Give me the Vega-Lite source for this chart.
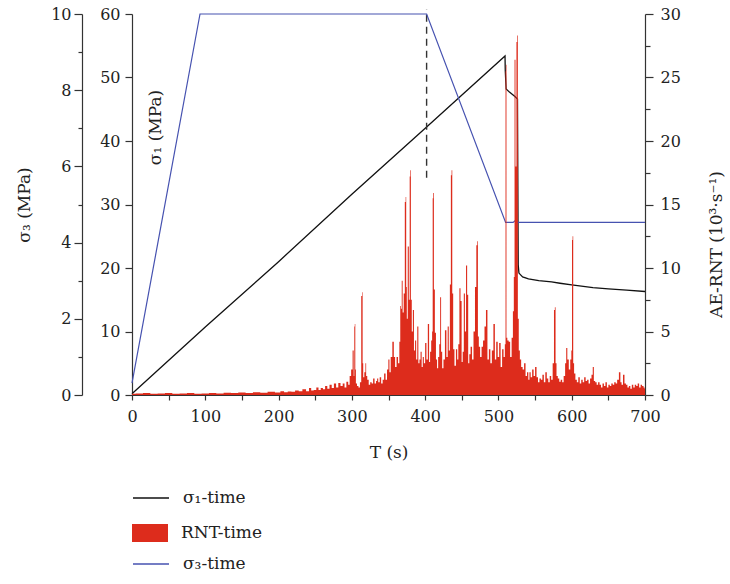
{
  "$schema": "https://vega.github.io/schema/vega-lite/v6.json",
  "width": 513,
  "height": 381,
  "autosize": {"type": "none"},
  "padding": {"left": 132, "top": 14, "right": 85, "bottom": 189},
  "background": "white",
  "config": {
    "view": {"stroke": null},
    "axis": {
      "labelFont": "DejaVu Serif", "labelFontSize": 16, "labelColor": "#222",
      "titleFont": "DejaVu Serif", "titleFontSize": 17, "titleFontWeight": "normal", "titleColor": "#222",
      "domainColor": "#333", "tickColor": "#333", "grid": false, "domainWidth": 1.2, "tickWidth": 1.2
    },
    "legend": {"labelFont": "DejaVu Serif", "labelFontSize": 17, "labelColor": "#222"}
  },
  "datasets": {
    "s1": [
      {"T": 0, "s": 0.2}, {"T": 100, "s": 10.7}, {"T": 200, "s": 21.0}, {"T": 300, "s": 31.6},
      {"T": 402, "s": 42.2}, {"T": 509, "s": 53.4}, {"T": 509.3, "s": 51.2}, {"T": 510.5, "s": 48.2},
      {"T": 515, "s": 47.7}, {"T": 522.5, "s": 47.0}, {"T": 526, "s": 46.6}, {"T": 527, "s": 20.5},
      {"T": 528, "s": 19.2}, {"T": 533, "s": 18.6}, {"T": 541, "s": 18.3}, {"T": 555, "s": 18.0},
      {"T": 572.5, "s": 17.8}, {"T": 584, "s": 17.6}, {"T": 600, "s": 17.35}, {"T": 629, "s": 16.9},
      {"T": 650, "s": 16.7}, {"T": 675, "s": 16.5}, {"T": 700, "s": 16.3}
    ],
    "s3": [
      {"T": 0, "s": 0.31}, {"T": 92.8, "s": 10.0}, {"T": 200, "s": 10.0}, {"T": 300, "s": 10.0},
      {"T": 402, "s": 10.0}, {"T": 509.8, "s": 4.53}, {"T": 520, "s": 4.53}, {"T": 523, "s": 4.58},
      {"T": 525, "s": 4.53}, {"T": 600, "s": 4.53}, {"T": 700, "s": 4.53}
    ],
    "marker": [{"T": 402, "lo": 34.2, "hi": 60.7}],
    "rnt": [
      {"T": 0, "v": 0.1}, {"T": 10, "v": 0.12}, {"T": 20, "v": 0.15}, {"T": 30, "v": 0.1}, {"T": 40, "v": 0.12},
      {"T": 50, "v": 0.15}, {"T": 60, "v": 0.1}, {"T": 70, "v": 0.12}, {"T": 80, "v": 0.15}, {"T": 90, "v": 0.1},
      {"T": 100, "v": 0.12}, {"T": 110, "v": 0.15}, {"T": 120, "v": 0.12}, {"T": 130, "v": 0.18}, {"T": 140, "v": 0.15},
      {"T": 150, "v": 0.2}, {"T": 160, "v": 0.15}, {"T": 170, "v": 0.22}, {"T": 180, "v": 0.18}, {"T": 190, "v": 0.25},
      {"T": 200, "v": 0.2}, {"T": 205, "v": 0.3}, {"T": 210, "v": 0.22}, {"T": 215, "v": 0.28}, {"T": 220, "v": 0.25},
      {"T": 225, "v": 0.35}, {"T": 230, "v": 0.3}, {"T": 235, "v": 0.45}, {"T": 240, "v": 0.3}, {"T": 243, "v": 0.55},
      {"T": 246, "v": 0.35}, {"T": 250, "v": 0.4}, {"T": 253, "v": 0.6}, {"T": 256, "v": 0.4}, {"T": 259, "v": 0.55},
      {"T": 262, "v": 0.45}, {"T": 265, "v": 0.7}, {"T": 268, "v": 0.5}, {"T": 271, "v": 0.8}, {"T": 274, "v": 0.55},
      {"T": 277, "v": 0.9}, {"T": 280, "v": 0.6}, {"T": 283, "v": 0.95}, {"T": 286, "v": 0.7}, {"T": 289, "v": 0.9},
      {"T": 291, "v": 0.6}, {"T": 294, "v": 1.05}, {"T": 296, "v": 0.8}, {"T": 298, "v": 1.5}, {"T": 300, "v": 2.0},
      {"T": 302, "v": 3.5}, {"T": 303, "v": 1.5}, {"T": 303.6, "v": 5.4}, {"T": 304.4, "v": 5.6}, {"T": 305, "v": 2.0}, {"T": 306, "v": 0.9},
      {"T": 308, "v": 0.7}, {"T": 310, "v": 0.6}, {"T": 312, "v": 1.0}, {"T": 313.6, "v": 7.8}, {"T": 314.4, "v": 8.1}, {"T": 315, "v": 2.5},
      {"T": 316, "v": 1.4}, {"T": 318, "v": 1.8}, {"T": 319, "v": 2.5}, {"T": 320, "v": 1.5}, {"T": 322, "v": 1.2},
      {"T": 324, "v": 0.8}, {"T": 326, "v": 1.0}, {"T": 328, "v": 0.9}, {"T": 330, "v": 1.3}, {"T": 332, "v": 0.9},
      {"T": 334, "v": 1.1}, {"T": 335, "v": 1.3}, {"T": 337, "v": 1.0}, {"T": 339, "v": 1.4}, {"T": 341, "v": 0.9},
      {"T": 343, "v": 1.2}, {"T": 345, "v": 1.7}, {"T": 347, "v": 1.2}, {"T": 349, "v": 2.0}, {"T": 350.6, "v": 2.8},
      {"T": 352, "v": 1.8}, {"T": 354, "v": 3.0}, {"T": 356.5, "v": 4.2}, {"T": 358, "v": 3.0}, {"T": 360, "v": 2.2},
      {"T": 362, "v": 3.0}, {"T": 364, "v": 2.5}, {"T": 365.6, "v": 4.2}, {"T": 366.5, "v": 7.0}, {"T": 367.5, "v": 6.8},
      {"T": 368.6, "v": 9.0}, {"T": 370, "v": 6.5}, {"T": 371.5, "v": 8.0}, {"T": 373.0, "v": 15.2}, {"T": 373.8, "v": 15.6}, {"T": 374.5, "v": 8.5},
      {"T": 375.5, "v": 6.0}, {"T": 377, "v": 11.7}, {"T": 378.5, "v": 7.5}, {"T": 379.3, "v": 17.2}, {"T": 380.1, "v": 17.7}, {"T": 381, "v": 7.5},
      {"T": 382.5, "v": 5.0}, {"T": 384, "v": 6.7}, {"T": 385.5, "v": 3.5}, {"T": 387, "v": 4.3}, {"T": 388.5, "v": 2.8},
      {"T": 390, "v": 5.4}, {"T": 391.5, "v": 2.5}, {"T": 393, "v": 2.8}, {"T": 394.5, "v": 3.4}, {"T": 396, "v": 2.2},
      {"T": 397.5, "v": 3.0}, {"T": 399, "v": 2.5}, {"T": 401, "v": 4.1}, {"T": 402.5, "v": 2.8}, {"T": 404.8, "v": 5.6},
      {"T": 406, "v": 2.6}, {"T": 407.5, "v": 3.4}, {"T": 409, "v": 4.3}, {"T": 410, "v": 5.0}, {"T": 410.6, "v": 15.5}, {"T": 411.4, "v": 15.9},
      {"T": 412.5, "v": 8.3}, {"T": 414, "v": 4.9}, {"T": 415.5, "v": 2.8}, {"T": 417, "v": 2.1}, {"T": 418.5, "v": 3.0},
      {"T": 420, "v": 4.0}, {"T": 421, "v": 7.7}, {"T": 422.5, "v": 3.4}, {"T": 424, "v": 2.1}, {"T": 426, "v": 2.8},
      {"T": 428, "v": 5.1}, {"T": 430, "v": 3.0}, {"T": 431.5, "v": 5.4}, {"T": 433, "v": 3.5}, {"T": 434.5, "v": 8.7},
      {"T": 435.7, "v": 17.3}, {"T": 436.5, "v": 17.7}, {"T": 437.5, "v": 8.0}, {"T": 439, "v": 3.6}, {"T": 441, "v": 2.3}, {"T": 443, "v": 3.6},
      {"T": 444.5, "v": 2.8}, {"T": 446, "v": 4.0}, {"T": 447.5, "v": 8.4}, {"T": 449, "v": 7.4}, {"T": 450.5, "v": 2.6},
      {"T": 452, "v": 3.4}, {"T": 453.5, "v": 8.0}, {"T": 455, "v": 5.0}, {"T": 456.6, "v": 10.2}, {"T": 458, "v": 7.9},
      {"T": 459.5, "v": 2.5}, {"T": 461, "v": 3.2}, {"T": 463, "v": 3.8}, {"T": 465, "v": 2.8}, {"T": 467, "v": 5.0},
      {"T": 469, "v": 8.5}, {"T": 470.7, "v": 11.8}, {"T": 471.5, "v": 12.1}, {"T": 472.5, "v": 4.6}, {"T": 474, "v": 3.8}, {"T": 476, "v": 3.0},
      {"T": 478, "v": 3.8}, {"T": 480, "v": 4.3}, {"T": 482, "v": 5.4}, {"T": 484, "v": 6.7}, {"T": 486, "v": 2.8},
      {"T": 488, "v": 3.6}, {"T": 490, "v": 2.5}, {"T": 492, "v": 3.5}, {"T": 494.3, "v": 5.6}, {"T": 496, "v": 2.8},
      {"T": 498, "v": 4.2}, {"T": 500, "v": 3.0}, {"T": 502, "v": 4.1}, {"T": 504, "v": 2.2}, {"T": 506, "v": 3.6},
      {"T": 508, "v": 3.0}, {"T": 509.5, "v": 4.0}, {"T": 509.9, "v": 25.5}, {"T": 510.6, "v": 26.0}, {"T": 511.3, "v": 4.5}, {"T": 513, "v": 4.3},
      {"T": 515, "v": 4.2}, {"T": 517, "v": 3.0}, {"T": 519, "v": 4.5}, {"T": 520.5, "v": 6.6}, {"T": 521.5, "v": 9.3},
      {"T": 522.5, "v": 26.4}, {"T": 524, "v": 18.0}, {"T": 525.2, "v": 27.8}, {"T": 526, "v": 28.3}, {"T": 527, "v": 6.0}, {"T": 528.5, "v": 3.5},
      {"T": 530, "v": 2.8}, {"T": 532, "v": 2.2}, {"T": 534, "v": 2.0}, {"T": 536, "v": 2.5}, {"T": 538, "v": 1.5},
      {"T": 540, "v": 1.8}, {"T": 541.6, "v": 1.2}, {"T": 543, "v": 1.8}, {"T": 545, "v": 1.4}, {"T": 547, "v": 2.0},
      {"T": 549, "v": 1.5}, {"T": 551, "v": 2.2}, {"T": 553, "v": 1.4}, {"T": 555, "v": 1.0}, {"T": 557, "v": 1.3},
      {"T": 559, "v": 1.2}, {"T": 561, "v": 1.6}, {"T": 563, "v": 1.0}, {"T": 565, "v": 1.8}, {"T": 567, "v": 1.3},
      {"T": 569, "v": 1.0}, {"T": 571, "v": 1.5}, {"T": 573, "v": 1.2}, {"T": 575, "v": 2.5}, {"T": 576.6, "v": 6.7}, {"T": 577.4, "v": 6.9},
      {"T": 578.5, "v": 2.5}, {"T": 580, "v": 1.5}, {"T": 582, "v": 1.3}, {"T": 584, "v": 1.05}, {"T": 586, "v": 1.2},
      {"T": 588, "v": 1.0}, {"T": 590, "v": 1.5}, {"T": 592, "v": 2.5}, {"T": 593, "v": 3.7}, {"T": 595, "v": 2.8},
      {"T": 597, "v": 2.0}, {"T": 599, "v": 2.8}, {"T": 600, "v": 3.5}, {"T": 600.8, "v": 12.2}, {"T": 601.6, "v": 12.5}, {"T": 602.5, "v": 2.5},
      {"T": 604, "v": 1.7}, {"T": 606, "v": 1.2}, {"T": 608, "v": 1.0}, {"T": 610, "v": 1.4}, {"T": 612, "v": 0.9},
      {"T": 614, "v": 1.2}, {"T": 616, "v": 1.0}, {"T": 618, "v": 1.4}, {"T": 620, "v": 1.1}, {"T": 622, "v": 1.2},
      {"T": 624, "v": 0.9}, {"T": 626, "v": 1.3}, {"T": 628, "v": 1.6}, {"T": 629.4, "v": 2.2}, {"T": 631, "v": 1.1},
      {"T": 633, "v": 1.0}, {"T": 635, "v": 0.8}, {"T": 637, "v": 1.0}, {"T": 639, "v": 0.8}, {"T": 641, "v": 0.6},
      {"T": 643, "v": 0.9}, {"T": 645, "v": 0.7}, {"T": 647, "v": 1.0}, {"T": 649, "v": 0.6}, {"T": 651, "v": 0.8},
      {"T": 653, "v": 0.7}, {"T": 655, "v": 0.9}, {"T": 657, "v": 0.8}, {"T": 659, "v": 1.0}, {"T": 661, "v": 0.9},
      {"T": 663, "v": 1.2}, {"T": 665.8, "v": 1.8}, {"T": 667, "v": 1.0}, {"T": 669, "v": 0.8}, {"T": 671, "v": 1.6},
      {"T": 673, "v": 0.9}, {"T": 675, "v": 0.8}, {"T": 677, "v": 0.6}, {"T": 679, "v": 0.7}, {"T": 681, "v": 0.5},
      {"T": 683, "v": 0.8}, {"T": 685, "v": 0.6}, {"T": 687, "v": 0.8}, {"T": 689, "v": 0.7}, {"T": 691, "v": 0.9},
      {"T": 693, "v": 0.6}, {"T": 695, "v": 0.8}, {"T": 697, "v": 0.7}, {"T": 699, "v": 0.6}, {"T": 700, "v": 0.5}
    ]
  },
  "encoding": {
    "x": {
      "field": "T", "type": "quantitative",
      "scale": {"domain": [0, 700], "nice": false},
      "axis": {
        "title": "T (s)", "values": [0, 50, 100, 150, 200, 250, 300, 350, 400, 450, 500, 550, 600, 650, 700],
        "labelExpr": "datum.value % 100 === 0 ? datum.label : ''",
        "tickSize": 5, "labelPadding": 8, "titlePadding": 20, "labelFlush": false, "labelOverlap": false
      }
    }
  },
  "layer": [
    {
      "layer": [
        {
          "data": {"name": "s1"},
          "mark": {"type": "line", "strokeWidth": 1.3, "clip": false},
          "encoding": {
            "y": {
              "field": "s", "type": "quantitative", "title": "σ₁ (MPa)",
              "scale": {"domain": [0, 60], "nice": false},
              "axis": {
                "orient": "left", "offset": 0, "title": "σ₁ (MPa)",
                "values": [0, 5, 10, 15, 20, 25, 30, 35, 40, 45, 50, 55, 60],
                "labelExpr": "datum.value % 10 === 0 ? datum.label : ''",
                "tickSize": {"condition": {"test": "datum.value % 10 === 0", "value": 7}, "value": 4},
                "labelPadding": 5, "labelOverlap": false, "labelFlush": false,
                "titleX": 23, "titleY": 113, "titleAngle": 270, "titleAlign": "center", "titleBaseline": "middle"
              }
            },
            "color": {
              "datum": "σ₁-time", "type": "nominal",
              "scale": {"range": ["#111111"]},
              "legend": {
                "orient": "none", "legendX": 0, "legendY": 465, "title": null,
                "symbolType": "stroke", "symbolSize": 1296, "symbolStrokeWidth": 1.5, "labelOffset": 13
              }
            }
          }
        },
        {
          "data": {"name": "marker"},
          "mark": {"type": "rule", "strokeDash": [7, 5], "strokeWidth": 1.4, "color": "#333333", "clip": false},
          "encoding": {
            "y": {"field": "lo", "type": "quantitative", "title": "σ₁ (MPa)"},
            "y2": {"field": "hi"}
          }
        }
      ]
    },
    {
      "data": {"name": "s3"},
      "mark": {"type": "line", "strokeWidth": 1.2},
      "encoding": {
        "y": {
          "field": "s", "type": "quantitative",
          "scale": {"domain": [0, 10], "nice": false},
          "axis": {
            "orient": "left", "offset": 50, "title": "σ₃ (MPa)",
            "values": [0, 1, 2, 3, 4, 5, 6, 7, 8, 9, 10],
            "labelExpr": "datum.value % 2 === 0 ? datum.label : ''",
            "tickSize": {"condition": {"test": "datum.value % 2 === 0", "value": 8}, "value": 4},
            "labelPadding": 3, "labelOverlap": false, "labelFlush": false, "titlePadding": 17
          }
        },
        "stroke": {
          "datum": "σ₃-time", "type": "nominal",
          "scale": {"range": ["#4652b0"]},
          "legend": {
            "orient": "none", "legendX": 0, "legendY": 531, "title": null,
            "symbolType": "stroke", "symbolSize": 1296, "symbolStrokeWidth": 1.3, "labelOffset": 13
          }
        }
      }
    },
    {
      "data": {"name": "rnt"},
      "mark": {"type": "area", "interpolate": "step", "opacity": 1},
      "encoding": {
        "y": {
          "field": "v", "type": "quantitative",
          "scale": {"domain": [0, 30], "nice": false},
          "axis": {
            "orient": "right", "title": "AE-RNT (10³·s⁻¹)",
            "values": [0, 2.5, 5, 7.5, 10, 12.5, 15, 17.5, 20, 22.5, 25, 27.5, 30],
            "labelExpr": "datum.value % 5 === 0 ? datum.label : ''",
            "tickSize": {"condition": {"test": "datum.value % 5 === 0", "value": 8}, "value": 5},
            "labelPadding": 7, "labelOverlap": false, "labelFlush": false,
            "titleX": 71, "titleY": 230, "titleAngle": 270, "titleAlign": "center", "titleBaseline": "middle"
          }
        },
        "fill": {
          "datum": "RNT-time", "type": "nominal",
          "scale": {"range": ["#dd2c1c"]},
          "legend": {
            "orient": "none", "legendX": 0, "legendY": 501, "title": null,
            "symbolType": "M-1,-0.5H1V0.5H-1Z", "symbolSize": 1296, "symbolStrokeWidth": 0, "symbolOpacity": 1, "labelOffset": 13
          }
        }
      }
    }
  ],
  "resolve": {"scale": {"y": "independent"}}
}
